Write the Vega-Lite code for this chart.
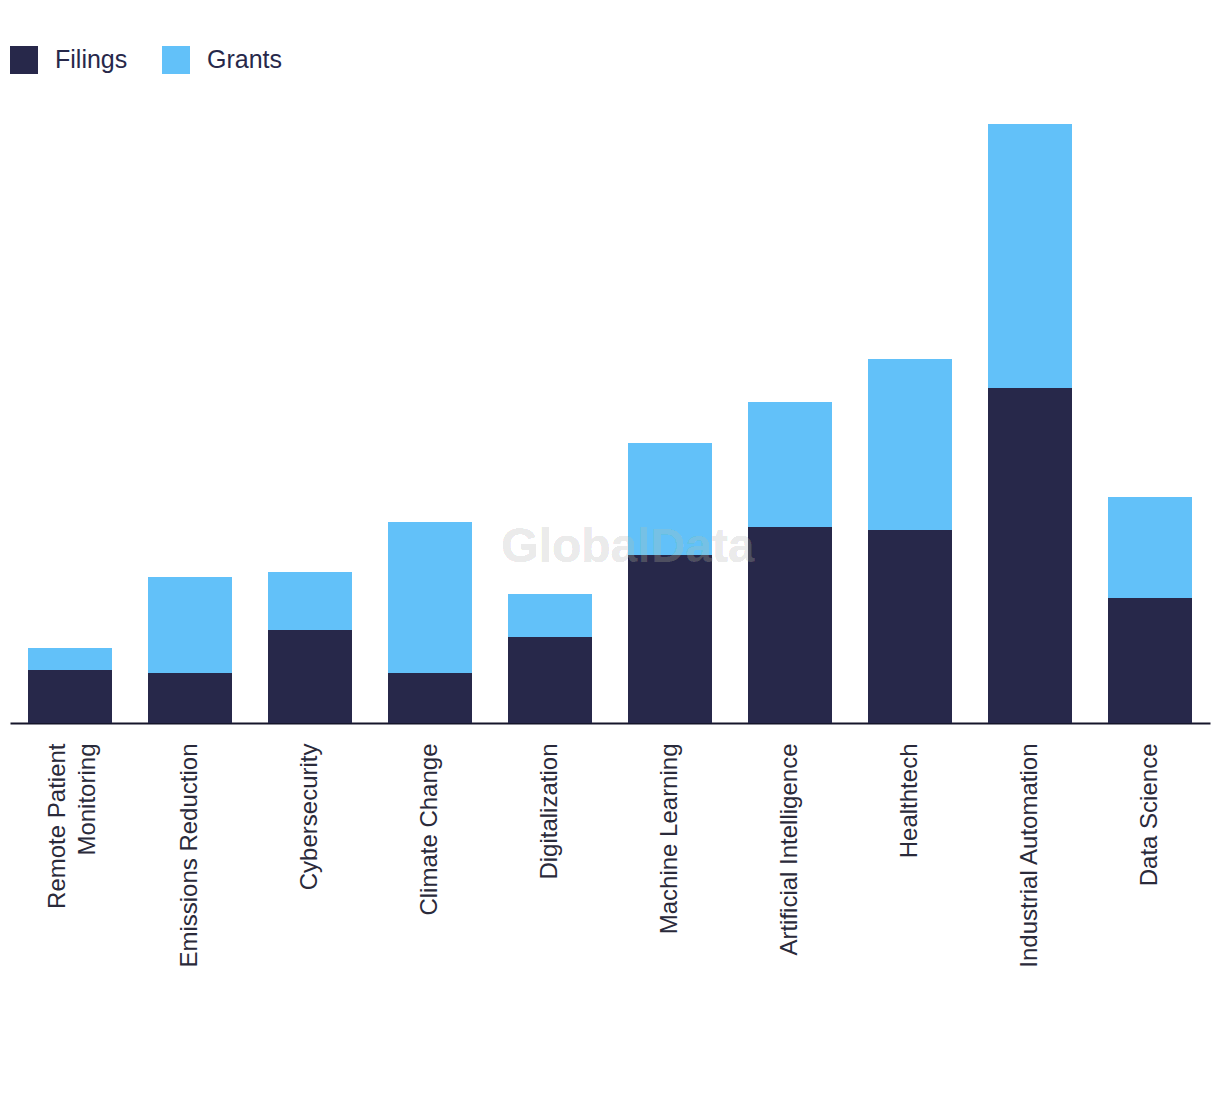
{
  "$schema": "https://vega.github.io/schema/vega-lite/v6.json",
  "width": 1200,
  "height": 623,
  "padding": {"left": 10, "top": 46, "right": 10, "bottom": 10},
  "autosize": {"type": "pad"},
  "background": "white",
  "config": {"view": {"stroke": null}},
  "data": {"values": [
    {"topic": "Remote Patient Monitoring", "type": "Filings", "count": 53},
    {"topic": "Remote Patient Monitoring", "type": "Grants", "count": 22},
    {"topic": "Emissions Reduction", "type": "Filings", "count": 50},
    {"topic": "Emissions Reduction", "type": "Grants", "count": 96},
    {"topic": "Cybersecurity", "type": "Filings", "count": 93},
    {"topic": "Cybersecurity", "type": "Grants", "count": 58},
    {"topic": "Climate Change", "type": "Filings", "count": 50},
    {"topic": "Climate Change", "type": "Grants", "count": 151},
    {"topic": "Digitalization", "type": "Filings", "count": 86},
    {"topic": "Digitalization", "type": "Grants", "count": 43},
    {"topic": "Machine Learning", "type": "Filings", "count": 168},
    {"topic": "Machine Learning", "type": "Grants", "count": 112},
    {"topic": "Artificial Intelligence", "type": "Filings", "count": 196},
    {"topic": "Artificial Intelligence", "type": "Grants", "count": 125},
    {"topic": "Healthtech", "type": "Filings", "count": 193},
    {"topic": "Healthtech", "type": "Grants", "count": 171},
    {"topic": "Industrial Automation", "type": "Filings", "count": 335},
    {"topic": "Industrial Automation", "type": "Grants", "count": 264},
    {"topic": "Data Science", "type": "Filings", "count": 125},
    {"topic": "Data Science", "type": "Grants", "count": 101}
  ]},
  "layer": [
    {
      "mark": {"type": "bar"},
      "encoding": {
        "x": {
          "field": "topic", "type": "nominal", "sort": null,
          "scale": {"paddingInner": 0.3, "paddingOuter": 0.15},
          "axis": {
            "title": null, "ticks": false, "labelAngle": -90, "labelAlign": "right",
            "labelBaseline": "middle", "labelPadding": 20, "labelFont": "Liberation Sans",
            "labelFontSize": 24, "labelColor": "#2a2a3a", "labelLineHeight": 30, "labelLimit": 0,
            "domainColor": "#15152a", "domainWidth": 2,
            "labelExpr": "datum.label == 'Remote Patient Monitoring' ? ['Remote Patient', 'Monitoring'] : datum.label",
            "labelOffset": {"condition": {"test": "datum.value == 'Remote Patient Monitoring'", "value": -12}, "value": 0}
          }
        },
        "y": {
          "field": "count", "type": "quantitative", "stack": "zero",
          "scale": {"domain": [0, 623], "nice": false},
          "axis": null
        },
        "color": {
          "field": "type", "type": "nominal",
          "scale": {"domain": ["Filings", "Grants"], "range": ["#27284a", "#62c1f9"]},
          "legend": {
            "title": null, "orient": "none", "legendX": 0, "legendY": -54,
            "direction": "horizontal", "symbolType": "square", "symbolSize": 784,
            "symbolStrokeWidth": 0, "labelFont": "Liberation Sans", "labelFontSize": 25,
            "labelColor": "#27284a", "labelOffset": 17, "columnPadding": 34
          }
        },
        "order": {"field": "type", "sort": "ascending"}
      }
    },
    {
      "mark": {"type": "text", "text": "GlobalData", "font": "Liberation Sans", "fontWeight": "bold",
               "fontSize": 48, "fill": "#cccccc", "opacity": 0.12, "fillOpacity": 0.12, "align": "center", "baseline": "middle"},
      "encoding": {
        "x": {"datum": "Machine Learning", "bandPosition": 0},
        "y": {"datum": 175}
      }
    }
  ]
}
